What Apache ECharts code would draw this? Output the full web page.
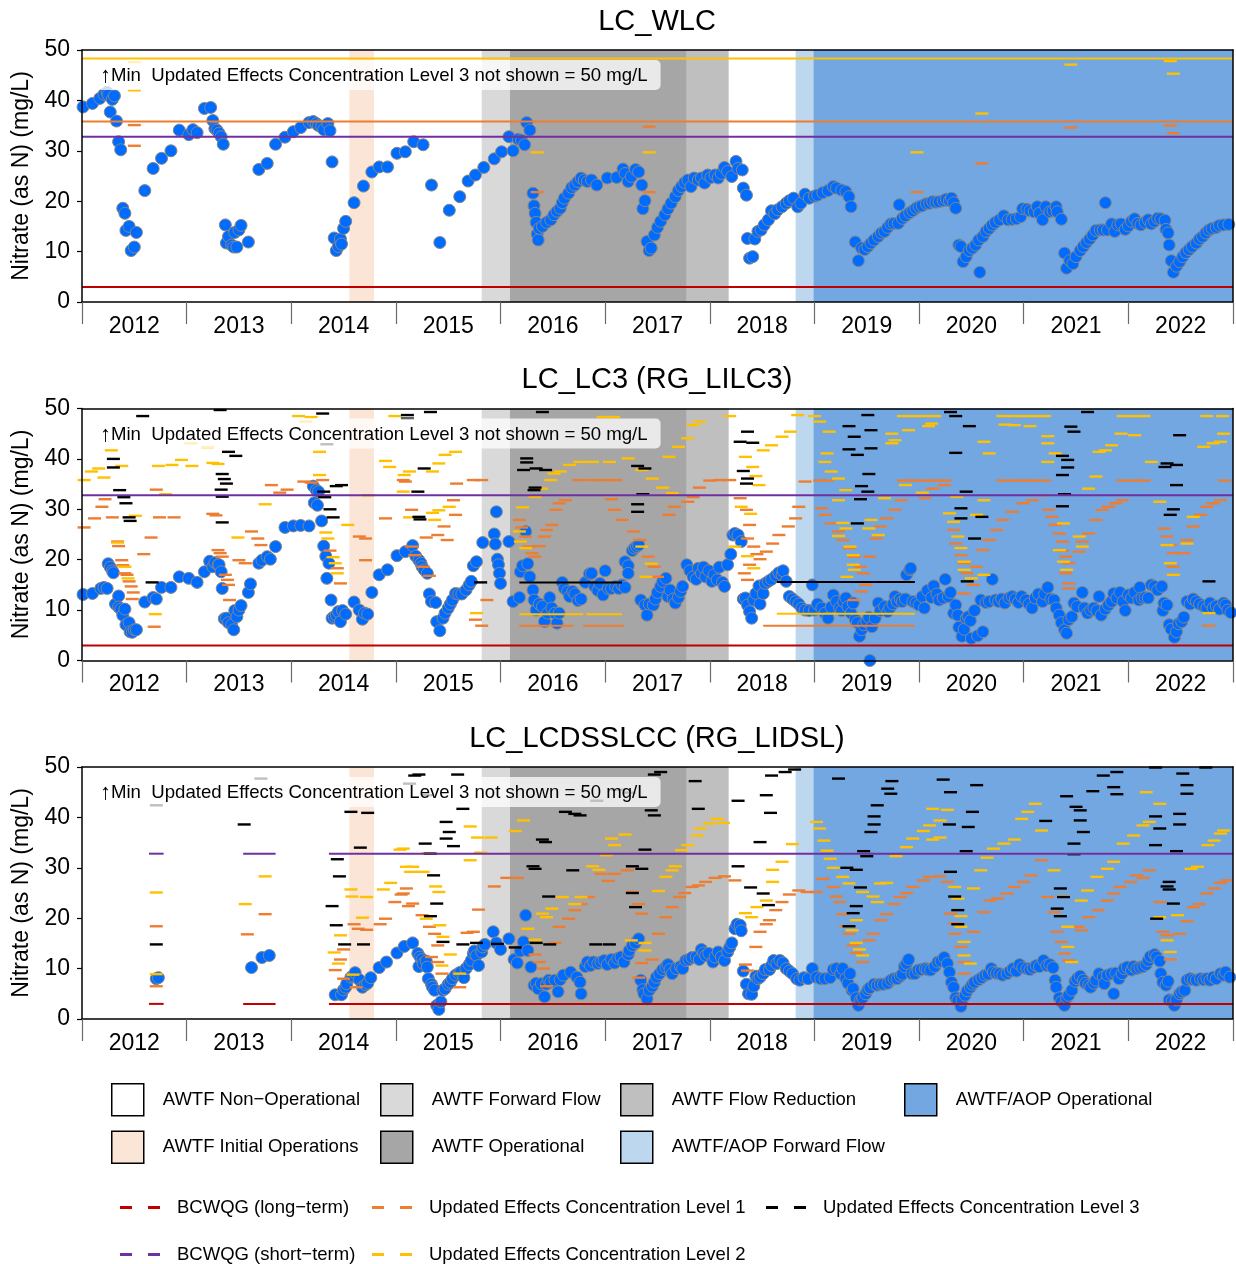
<!DOCTYPE html>
<html>
<head>
<meta charset="utf-8">
<title>Nitrate at Line Creek monitoring stations</title>
<script src="https://cdn.jsdelivr.net/npm/echarts@6/dist/echarts.min.js"></script>
<style>
  html, body { margin: 0; padding: 0; background: #ffffff; }
  #chart { width: 1236px; height: 1264px; }
</style>
</head>
<body>
<div id="chart"></div>
<script>
// ---------------------------------------------------------------------------
// Data (x = decimal year, y = nitrate as N, mg/L)
// ---------------------------------------------------------------------------
const Y_MAX = 50;
const yearFirst = 2012;
const yearLast = 2023;

// Treatment-plant operating phases: [start, end] per period
const phaseNames = ['AWTF Non\u2212Operational', 'AWTF Initial Operations', 'AWTF Forward Flow', 'AWTF Operational',
  'AWTF Flow Reduction', 'AWTF/AOP Forward Flow', 'AWTF/AOP Operational'];
const phasePeriods = [
  [[2012.0, 2014.555], [2014.79, 2015.82], [2018.18, 2018.82]],
  [[2014.555, 2014.79]],
  [[2015.82, 2016.09]],
  [[2016.09, 2017.78]],
  [[2017.78, 2018.18]],
  [[2018.82, 2018.99]],
  [[2018.99, 2023.0]]
];

// ---- LC_WLC ----
const wlcNitrate = [[2012.01,38.7],[2012.10,39.4],[2012.17,40.4],[2012.21,41.2],[2012.24,41.6],[2012.25,41.1],[2012.27,37.7],[2012.29,40.2],[2012.31,40.9],[2012.33,35.9],[2012.35,31.8],[2012.37,30.2],[2012.39,18.6],[2012.41,17.6],[2012.42,14.2],[2012.45,15.0],[2012.47,10.2],[2012.50,10.9],[2012.52,13.8],[2012.60,22.1],[2012.68,26.5],[2012.76,28.5],[2012.85,30.0],[2012.93,34.1],[2013.02,33.2],[2013.06,34.2],[2013.10,33.6],[2013.17,38.4],[2013.23,38.6],[2013.25,36.0],[2013.27,34.4],[2013.29,34.1],[2013.31,33.5],[2013.33,32.8],[2013.35,31.3],[2013.37,15.3],[2013.38,11.7],[2013.40,13.0],[2013.43,11.3],[2013.45,10.9],[2013.46,13.8],[2013.48,10.9],[2013.50,14.3],[2013.52,15.2],[2013.59,11.9],[2013.69,26.3],[2013.77,27.5],[2013.85,31.3],[2013.94,32.7],[2014.02,33.8],[2014.09,34.6],[2014.17,35.6],[2014.21,35.8],[2014.24,35.4],[2014.26,35.0],[2014.29,34.8],[2014.31,34.2],[2014.35,35.4],[2014.37,34.0],[2014.39,27.8],[2014.41,12.7],[2014.43,10.2],[2014.45,11.0],[2014.47,12.5],[2014.48,11.5],[2014.50,14.6],[2014.52,16.0],[2014.60,19.7],[2014.69,23.0],[2014.77,25.8],[2014.84,26.8],[2014.92,26.8],[2015.01,29.5],[2015.09,29.8],[2015.17,31.8],[2015.26,31.2],[2015.34,23.2],[2015.42,11.8],[2015.51,18.2],[2015.61,20.9],[2015.69,24.0],[2015.76,25.2],[2015.84,26.7],[2015.94,28.4],[2016.01,29.8],[2016.08,32.8],[2016.12,30.0],[2016.17,32.3],[2016.20,32.1],[2016.23,31.2],[2016.25,35.6],[2016.28,34.1],[2016.31,21.6],[2016.32,19.1],[2016.33,17.6],[2016.34,15.8],[2016.35,13.5],[2016.36,12.3],[2016.37,14.6],[2016.40,15.0],[2016.44,15.8],[2016.48,16.3],[2016.51,17.3],[2016.54,18.0],[2016.57,18.6],[2016.59,19.7],[2016.61,20.6],[2016.65,21.6],[2016.68,22.7],[2016.71,23.2],[2016.74,23.9],[2016.77,24.6],[2016.80,24.2],[2016.83,23.9],[2016.87,24.2],[2016.92,23.2],[2017.02,24.6],[2017.11,24.7],[2017.17,26.4],[2017.19,25.5],[2017.22,23.9],[2017.25,24.9],[2017.29,26.3],[2017.32,25.8],[2017.35,23.2],[2017.36,18.5],[2017.38,20.1],[2017.40,12.0],[2017.42,10.2],[2017.44,10.7],[2017.47,13.3],[2017.50,14.8],[2017.53,16.0],[2017.57,17.3],[2017.60,18.5],[2017.63,19.6],[2017.67,20.9],[2017.70,22.1],[2017.73,22.9],[2017.76,23.7],[2017.79,24.2],[2017.82,22.9],[2017.85,24.6],[2017.89,24.2],[2017.92,24.6],[2017.95,23.6],[2017.98,25.2],[2018.01,24.7],[2018.05,25.2],[2018.08,24.6],[2018.11,25.5],[2018.14,26.7],[2018.17,25.9],[2018.21,24.9],[2018.25,27.9],[2018.27,26.5],[2018.31,26.2],[2018.32,22.6],[2018.35,21.2],[2018.36,12.6],[2018.38,8.7],[2018.41,9.0],[2018.43,12.5],[2018.46,14.0],[2018.49,14.3],[2018.52,15.3],[2018.56,16.3],[2018.59,18.1],[2018.62,17.5],[2018.65,18.3],[2018.69,18.9],[2018.73,19.6],[2018.76,20.1],[2018.80,20.6],[2018.84,18.9],[2018.87,19.6],[2018.91,21.4],[2018.95,20.6],[2019.00,21.0],[2019.03,21.2],[2019.08,21.7],[2019.13,22.1],[2019.18,22.9],[2019.21,22.6],[2019.26,22.2],[2019.30,21.9],[2019.33,20.9],[2019.35,18.9],[2019.39,11.9],[2019.42,8.2],[2019.45,10.7],[2019.48,10.4],[2019.51,11.0],[2019.54,11.7],[2019.57,12.3],[2019.61,13.0],[2019.64,13.7],[2019.67,14.0],[2019.70,14.8],[2019.73,15.5],[2019.76,15.6],[2019.80,15.6],[2019.81,19.3],[2019.84,16.6],[2019.87,17.1],[2019.91,17.7],[2019.94,18.1],[2019.97,18.6],[2020.00,18.9],[2020.03,19.1],[2020.07,19.5],[2020.10,19.6],[2020.13,19.9],[2020.16,19.8],[2020.19,19.9],[2020.23,20.1],[2020.26,20.4],[2020.29,20.1],[2020.31,20.6],[2020.33,19.7],[2020.35,18.6],[2020.38,11.3],[2020.40,11.0],[2020.42,8.0],[2020.45,9.0],[2020.48,10.2],[2020.51,10.7],[2020.54,11.3],[2020.57,12.3],[2020.58,5.9],[2020.61,13.0],[2020.64,14.0],[2020.67,14.6],[2020.70,15.3],[2020.73,15.8],[2020.77,16.3],[2020.81,17.1],[2020.85,16.3],[2020.89,16.4],[2020.93,16.5],[2020.97,16.9],[2020.99,18.5],[2021.03,18.4],[2021.06,18.1],[2021.10,17.9],[2021.13,18.9],[2021.15,17.6],[2021.18,16.3],[2021.21,18.9],[2021.25,17.9],[2021.28,18.1],[2021.31,18.9],[2021.32,17.9],[2021.36,16.4],[2021.39,9.7],[2021.41,6.7],[2021.44,8.2],[2021.47,7.6],[2021.50,9.0],[2021.54,10.2],[2021.57,11.0],[2021.60,11.8],[2021.63,12.5],[2021.66,13.3],[2021.69,14.2],[2021.73,14.3],[2021.76,14.3],[2021.78,19.7],[2021.80,14.3],[2021.84,15.5],[2021.87,14.0],[2021.90,15.3],[2021.93,15.5],[2021.97,14.4],[2022.00,15.1],[2022.03,16.0],[2022.06,16.5],[2022.09,15.6],[2022.12,15.3],[2022.16,15.8],[2022.19,16.3],[2022.22,15.5],[2022.25,16.0],[2022.28,16.6],[2022.31,16.5],[2022.35,16.2],[2022.36,14.4],[2022.38,13.7],[2022.39,11.3],[2022.41,8.2],[2022.43,5.9],[2022.46,7.1],[2022.49,8.0],[2022.52,9.0],[2022.55,9.8],[2022.58,10.4],[2022.61,11.0],[2022.65,11.7],[2022.68,12.5],[2022.71,13.0],[2022.74,13.7],[2022.77,14.3],[2022.80,14.6],[2022.84,14.8],[2022.87,15.2],[2022.91,15.3],[2022.96,15.4]];
// guideline runs: [start, end, value]
const wlcLongTermRuns = [[2012, 2023, 3.0]];
const wlcShortTermRuns = [[2012, 2023, 32.8]];
const wlcLevel1Runs = [[2012, 2023, 35.8]];
const wlcLevel2Runs = [[2012, 2023, 48.3]];
// single-sample guideline values
const wlcLevel1 = [[2012.50,35.1],[2012.50,31.0],[2016.35,21.8],[2017.42,34.8],[2017.42,21.8],[2019.98,21.8],[2020.60,27.5],[2021.45,34.6],[2022.40,35.0],[2022.43,33.5]];
const wlcLevel2 = [[2012.50,47.6],[2012.50,42.0],[2016.35,29.7],[2017.42,29.7],[2019.98,29.7],[2020.60,37.4],[2021.45,47.1],[2022.40,47.8],[2022.43,45.3]];

// ---- LC_LC3 (RG_LILC3) ----
const lc3Nitrate = [[2012.01,13.1],[2012.10,13.3],[2012.18,14.3],[2012.21,14.5],[2012.24,14.3],[2012.25,19.2],[2012.27,18.5],[2012.29,17.8],[2012.30,17.4],[2012.32,11.2],[2012.35,12.8],[2012.35,10.6],[2012.37,10.2],[2012.39,9.0],[2012.41,10.2],[2012.42,7.1],[2012.45,7.5],[2012.46,5.7],[2012.48,5.6],[2012.50,6.1],[2012.52,6.1],[2012.60,11.6],[2012.68,12.5],[2012.71,12.2],[2012.76,14.5],[2012.85,14.5],[2012.93,16.6],[2013.02,16.3],[2013.10,15.5],[2013.17,17.6],[2013.22,19.7],[2013.25,18.6],[2013.27,19.4],[2013.30,19.0],[2013.31,19.0],[2013.33,17.6],[2013.34,14.3],[2013.36,8.3],[2013.38,8.4],[2013.40,7.5],[2013.43,7.1],[2013.45,6.1],[2013.46,9.9],[2013.48,8.7],[2013.50,10.0],[2013.52,10.9],[2013.59,13.5],[2013.61,15.2],[2013.69,19.3],[2013.72,19.9],[2013.77,20.6],[2013.80,20.1],[2013.85,22.6],[2013.94,26.4],[2014.02,26.7],[2014.09,26.8],[2014.17,26.7],[2014.21,34.6],[2014.22,31.3],[2014.24,33.8],[2014.25,30.8],[2014.26,33.5],[2014.29,27.7],[2014.31,22.7],[2014.33,20.7],[2014.34,16.3],[2014.36,19.3],[2014.38,12.0],[2014.39,8.4],[2014.41,8.7],[2014.43,9.0],[2014.45,9.7],[2014.47,7.7],[2014.49,9.9],[2014.52,9.2],[2014.60,11.6],[2014.65,10.0],[2014.68,8.2],[2014.70,9.4],[2014.73,9.2],[2014.77,13.5],[2014.84,17.0],[2014.92,18.0],[2015.01,20.8],[2015.09,21.6],[2015.16,22.8],[2015.19,20.7],[2015.22,19.9],[2015.24,19.3],[2015.25,18.6],[2015.27,18.0],[2015.30,17.3],[2015.32,13.2],[2015.34,11.7],[2015.38,11.5],[2015.39,7.7],[2015.42,5.9],[2015.45,8.4],[2015.47,9.4],[2015.50,10.4],[2015.52,11.2],[2015.54,12.0],[2015.57,13.3],[2015.60,13.2],[2015.63,13.2],[2015.67,14.0],[2015.70,15.0],[2015.72,15.7],[2015.74,18.8],[2015.77,19.6],[2015.83,23.4],[2015.94,25.1],[2015.95,23.1],[2015.96,29.5],[2015.97,20.1],[2015.98,19.0],[2015.99,17.3],[2016.00,15.3],[2016.08,23.6],[2016.12,11.7],[2016.18,12.5],[2016.19,17.6],[2016.21,18.8],[2016.24,25.6],[2016.26,19.2],[2016.28,16.6],[2016.31,14.0],[2016.32,12.0],[2016.34,10.0],[2016.37,11.2],[2016.40,10.7],[2016.42,7.7],[2016.45,9.4],[2016.47,12.5],[2016.49,10.4],[2016.52,9.4],[2016.54,7.4],[2016.56,9.4],[2016.59,15.5],[2016.61,14.3],[2016.64,13.7],[2016.66,12.7],[2016.69,13.7],[2016.71,13.2],[2016.74,11.9],[2016.77,12.2],[2016.81,15.5],[2016.85,17.2],[2016.87,17.3],[2016.90,14.7],[2016.93,13.9],[2016.95,15.3],[2016.98,13.0],[2017.00,17.8],[2017.03,14.3],[2017.06,14.3],[2017.10,14.7],[2017.13,14.3],[2017.16,15.0],[2017.19,14.5],[2017.19,19.6],[2017.22,18.8],[2017.22,17.3],[2017.26,21.8],[2017.28,22.3],[2017.30,22.6],[2017.32,22.9],[2017.34,12.0],[2017.38,11.0],[2017.40,9.0],[2017.42,11.2],[2017.46,11.0],[2017.48,12.2],[2017.50,13.5],[2017.53,14.7],[2017.55,15.7],[2017.58,16.3],[2017.60,12.7],[2017.62,14.0],[2017.65,12.2],[2017.67,11.4],[2017.70,12.5],[2017.72,13.7],[2017.74,14.7],[2017.78,19.0],[2017.81,17.8],[2017.84,16.6],[2017.87,16.1],[2017.89,18.3],[2017.92,17.3],[2017.94,18.5],[2017.96,16.6],[2017.99,17.8],[2018.02,15.7],[2018.04,17.0],[2018.07,16.0],[2018.09,18.5],[2018.12,15.5],[2018.14,14.7],[2018.17,19.0],[2018.20,21.1],[2018.22,24.9],[2018.24,25.2],[2018.27,24.9],[2018.30,23.6],[2018.32,12.2],[2018.34,12.4],[2018.36,11.0],[2018.38,9.7],[2018.40,8.4],[2018.42,12.0],[2018.44,13.3],[2018.47,14.8],[2018.48,11.2],[2018.51,13.3],[2018.53,15.3],[2018.56,15.7],[2018.59,16.1],[2018.63,16.8],[2018.66,17.4],[2018.69,17.0],[2018.70,17.8],[2018.73,15.7],[2018.76,12.7],[2018.79,12.2],[2018.82,11.7],[2018.85,11.2],[2018.88,10.4],[2018.91,10.0],[2018.95,9.9],[2018.98,15.0],[2019.00,10.0],[2019.03,11.2],[2019.07,10.4],[2019.10,9.4],[2019.13,8.4],[2019.16,10.6],[2019.18,13.0],[2019.21,11.7],[2019.24,10.4],[2019.26,9.9],[2019.28,11.7],[2019.30,12.4],[2019.32,10.7],[2019.35,9.4],[2019.37,11.4],[2019.39,8.1],[2019.41,7.5],[2019.43,4.8],[2019.45,6.1],[2019.47,7.1],[2019.50,7.7],[2019.52,8.6],[2019.53,0.0],[2019.55,6.7],[2019.58,8.4],[2019.61,11.4],[2019.63,9.9],[2019.67,10.7],[2019.70,9.7],[2019.72,10.4],[2019.75,11.2],[2019.77,12.7],[2019.79,11.7],[2019.82,12.2],[2019.84,11.7],[2019.87,12.2],[2019.88,17.0],[2019.91,18.0],[2019.92,18.3],[2019.94,11.7],[2019.97,11.4],[2020.00,11.0],[2020.03,12.7],[2020.05,10.4],[2020.08,13.9],[2020.12,12.5],[2020.14,14.8],[2020.17,13.2],[2020.19,12.0],[2020.23,12.4],[2020.25,16.1],[2020.28,12.7],[2020.30,13.5],[2020.33,9.4],[2020.35,11.0],[2020.37,9.0],[2020.38,6.6],[2020.41,4.8],[2020.43,6.2],[2020.45,8.4],[2020.47,8.7],[2020.49,7.9],[2020.50,4.4],[2020.53,9.9],[2020.56,4.9],[2020.59,12.0],[2020.61,5.7],[2020.64,11.5],[2020.67,11.7],[2020.70,16.1],[2020.73,12.0],[2020.76,11.7],[2020.79,12.2],[2020.82,11.4],[2020.86,12.4],[2020.89,12.7],[2020.92,12.2],[2020.95,11.5],[2020.98,12.7],[2021.02,12.0],[2021.05,11.2],[2021.08,10.4],[2021.11,12.4],[2021.14,13.2],[2021.18,11.7],[2021.20,13.2],[2021.23,14.5],[2021.26,12.2],[2021.29,12.0],[2021.31,10.4],[2021.34,9.0],[2021.36,7.5],[2021.39,6.1],[2021.41,5.4],[2021.43,8.1],[2021.46,8.7],[2021.48,11.4],[2021.51,10.7],[2021.56,13.5],[2021.58,10.4],[2021.61,9.4],[2021.64,10.0],[2021.67,10.4],[2021.70,9.9],[2021.72,12.7],[2021.74,9.0],[2021.78,10.2],[2021.81,11.0],[2021.84,11.7],[2021.86,13.3],[2021.89,12.4],[2021.92,13.5],[2021.95,11.7],[2021.97,9.9],[2022.00,13.0],[2022.03,12.4],[2022.06,13.5],[2022.10,12.0],[2022.11,14.5],[2022.13,12.4],[2022.16,12.5],[2022.19,12.4],[2022.22,15.0],[2022.25,14.7],[2022.28,14.0],[2022.32,14.7],[2022.33,9.9],[2022.34,11.4],[2022.37,11.0],[2022.39,7.1],[2022.41,6.2],[2022.44,4.6],[2022.46,5.7],[2022.48,7.3],[2022.51,7.7],[2022.53,8.6],[2022.56,11.7],[2022.59,11.2],[2022.62,12.2],[2022.65,11.7],[2022.68,11.2],[2022.72,10.8],[2022.75,10.4],[2022.78,11.4],[2022.81,10.4],[2022.84,10.8],[2022.87,10.2],[2022.91,11.4],[2022.93,11.0],[2022.95,10.0],[2022.98,9.5]];
const lc3LongTermRuns = [[2012, 2023, 3.0]];
const lc3ShortTermRuns = [[2012, 2023, 32.8]];
const lc3Level1Runs = [[2016.18,2016.70,6.9],[2016.79,2017.18,6.9],[2018.51,2019.96,6.9]];
const lc3Level2Runs = [[2016.18,2016.79,9.2],[2016.82,2017.16,9.2],[2018.64,2019.96,9.3]];
const lc3Level3Runs = [[2016.18,2017.16,15.5],[2018.64,2019.96,15.6]];
const lc3Level1 = [[2012.02,26.4],[2012.12,28.2],[2012.19,30.5],[2012.22,32.0],[2012.29,28.4],[2012.34,23.6],[2012.35,22.7],[2012.38,19.9],[2012.39,18.9],[2012.41,17.3],[2012.43,17.0],[2012.45,15.7],[2012.47,14.7],[2012.49,13.5],[2012.48,12.2],[2012.59,21.1],[2012.66,24.4],[2012.71,33.9],[2012.74,28.4],[2012.88,28.4],[2012.69,6.7],[2013.25,29.1],[2013.28,28.8],[2013.30,21.9],[2013.32,21.3],[2013.34,20.6],[2013.37,17.0],[2013.39,16.0],[2013.40,15.0],[2013.41,12.0],[2013.50,19.9],[2013.56,19.3],[2013.62,25.6],[2013.68,24.2],[2013.71,22.9],[2013.81,34.8],[2013.89,33.3],[2013.96,33.9],[2014.12,35.5],[2014.19,35.3],[2014.30,35.8],[2014.37,21.8],[2014.44,18.3],[2014.47,15.3],[2014.65,24.6],[2014.71,24.2],[2014.71,19.9],[2014.90,28.2],[2015.07,35.8],[2015.15,29.9],[2015.09,35.5],[2015.15,22.6],[2015.18,20.9],[2015.26,18.6],[2015.32,16.8],[2015.29,24.4],[2015.40,24.9],[2015.46,26.6],[2015.49,23.9],[2015.55,31.8],[2015.57,28.9],[2015.58,35.1],[2015.74,35.8],[2015.82,35.8],[2015.76,8.1],[2015.82,6.9],[2015.87,12.0],[2016.18,27.9],[2016.20,26.4],[2016.24,24.6],[2016.27,22.6],[2016.30,21.3],[2016.33,20.6],[2016.37,22.7],[2016.42,24.6],[2016.44,25.9],[2016.49,26.9],[2016.53,29.9],[2016.56,31.2],[2016.62,31.8],[2016.75,35.8],[2016.88,35.8],[2017.00,35.8],[2017.10,35.8],[2017.06,32.0],[2017.09,29.9],[2017.16,27.9],[2017.27,25.6],[2017.33,23.9],[2017.41,20.6],[2017.47,18.6],[2017.50,16.6],[2017.61,28.9],[2017.66,30.5],[2017.79,31.5],[2017.84,32.4],[2017.90,34.3],[2018.00,35.7],[2018.09,35.8],[2018.19,35.8],[2018.29,32.2],[2018.35,29.9],[2018.38,26.9],[2018.36,24.2],[2018.42,22.6],[2018.45,21.1],[2018.38,19.0],[2018.33,17.3],[2018.36,16.0],[2018.48,20.1],[2018.54,21.6],[2018.60,23.2],[2018.66,24.9],[2018.75,26.6],[2018.82,28.2],[2018.85,30.5],[2018.91,35.5],[2019.05,35.7],[2019.12,35.7],[2019.85,35.7],[2019.95,35.7],[2020.05,35.7],[2020.15,35.7],[2020.25,35.7],[2020.80,35.7],[2020.90,35.7],[2021.00,35.7],[2021.10,35.7],[2021.20,35.7],[2021.95,35.7],[2022.05,35.7],[2022.15,35.7],[2022.92,35.7],[2019.07,30.2],[2019.10,28.9],[2019.16,27.2],[2019.23,25.6],[2019.27,23.9],[2019.33,22.3],[2019.38,20.6],[2019.44,18.6],[2019.47,17.3],[2019.49,15.0],[2019.45,13.7],[2019.38,12.0],[2019.53,20.6],[2019.59,24.2],[2019.63,26.6],[2019.69,28.2],[2019.77,29.9],[2019.83,31.8],[2020.06,32.2],[2020.13,34.1],[2020.24,34.8],[2020.33,25.9],[2020.35,23.2],[2020.40,20.9],[2020.43,19.3],[2020.46,17.3],[2020.43,13.3],[2020.52,15.0],[2020.55,18.6],[2020.61,21.9],[2020.67,23.9],[2020.74,25.9],[2020.80,27.9],[2020.89,29.5],[2020.99,31.2],[2021.08,31.8],[2021.18,32.8],[2021.24,29.9],[2021.27,28.5],[2021.30,26.9],[2021.34,25.2],[2021.37,23.6],[2021.37,21.8],[2021.40,20.6],[2021.43,19.3],[2021.40,17.3],[2021.43,15.3],[2021.43,14.3],[2021.53,21.6],[2021.56,23.6],[2021.62,25.2],[2021.69,27.9],[2021.75,29.9],[2021.81,30.5],[2021.88,31.2],[2021.94,31.8],[2022.34,26.2],[2022.37,24.6],[2022.40,22.9],[2022.43,21.3],[2022.43,18.6],[2022.43,17.0],[2022.53,21.3],[2022.56,23.9],[2022.62,26.6],[2022.69,28.9],[2022.75,30.5],[2022.81,31.2],[2022.88,31.8],[2022.77,6.9]];
const lc3Level2 = [[2012.02,35.8],[2012.09,37.5],[2012.16,38.1],[2012.21,36.3],[2012.28,41.7],[2012.38,38.6],[2012.34,23.4],[2012.41,18.6],[2012.44,16.3],[2012.51,28.7],[2012.70,9.2],[2012.73,38.6],[2012.86,38.8],[2012.80,33.0],[2012.95,39.8],[2013.05,38.6],[2013.04,43.1],[2013.20,42.3],[2013.25,39.2],[2013.30,39.0],[2013.49,24.4],[2013.75,31.0],[2014.07,48.5],[2014.19,48.3],[2014.14,47.4],[2014.27,41.4],[2014.27,36.8],[2014.33,25.4],[2014.35,24.2],[2014.40,20.5],[2014.42,19.3],[2014.44,17.3],[2014.54,26.9],[2014.74,32.8],[2014.94,38.4],[2014.90,39.6],[2014.99,48.5],[2015.07,33.5],[2015.13,37.5],[2015.08,36.8],[2015.35,37.5],[2015.41,39.1],[2015.47,40.8],[2015.57,41.4],[2015.51,30.5],[2015.35,29.3],[2015.41,29.8],[2015.13,28.4],[2015.37,27.9],[2015.77,9.4],[2016.24,22.3],[2016.19,23.6],[2016.18,25.6],[2016.21,30.4],[2016.33,32.5],[2016.39,34.1],[2016.48,35.8],[2016.51,37.1],[2016.57,37.5],[2016.66,38.8],[2016.76,39.4],[2016.88,39.4],[2017.04,39.4],[2016.98,48.3],[2017.08,48.3],[2017.22,40.1],[2017.35,37.8],[2017.45,36.1],[2017.55,34.3],[2017.64,33.2],[2017.61,40.4],[2017.70,42.4],[2017.79,44.1],[2017.84,46.7],[2017.90,47.4],[2018.19,48.5],[2018.51,41.7],[2018.59,42.7],[2018.69,44.4],[2018.77,45.4],[2018.84,48.7],[2018.34,40.4],[2018.41,38.4],[2018.44,36.6],[2018.47,34.8],[2018.30,30.5],[2018.39,29.1],[2018.24,22.6],[2018.36,20.7],[2018.42,18.3],[2017.35,22.6],[2017.44,19.2],[2017.39,16.6],[2019.00,48.5],[2019.85,48.5],[2019.95,48.5],[2020.05,48.5],[2020.15,48.5],[2020.80,48.5],[2020.90,48.5],[2021.00,48.5],[2021.10,48.5],[2021.20,48.5],[2021.95,48.5],[2022.05,48.5],[2022.15,48.5],[2022.75,48.5],[2022.90,48.5],[2019.05,47.4],[2019.14,45.4],[2019.12,41.1],[2019.10,39.4],[2019.16,37.5],[2019.23,36.1],[2019.30,33.8],[2019.23,31.8],[2019.27,27.3],[2019.30,26.2],[2019.23,24.7],[2019.34,22.6],[2019.37,20.9],[2019.37,19.0],[2019.38,18.0],[2019.31,16.6],[2019.52,26.2],[2019.54,27.9],[2019.61,24.9],[2019.67,32.2],[2019.74,45.0],[2019.77,43.7],[2019.74,43.1],[2019.90,45.7],[2020.09,46.5],[2020.12,47.0],[2020.03,33.3],[2019.87,34.8],[2020.36,32.5],[2020.29,29.2],[2020.33,27.5],[2020.37,24.6],[2020.40,22.3],[2020.43,19.6],[2020.43,18.0],[2020.50,16.3],[2020.62,17.0],[2020.55,28.9],[2020.62,31.8],[2020.62,43.4],[2020.67,41.1],[2020.82,46.8],[2020.91,46.7],[2021.06,46.5],[2021.23,44.5],[2021.23,43.1],[2021.30,41.1],[2021.23,39.4],[2021.38,27.2],[2021.34,21.9],[2021.38,19.6],[2021.41,18.0],[2021.53,24.6],[2021.56,22.6],[2021.62,34.1],[2021.69,36.5],[2021.72,41.4],[2021.78,41.7],[2021.84,42.7],[2021.93,45.0],[2022.06,44.7],[2022.22,39.4],[2022.30,31.5],[2022.37,22.9],[2022.40,19.3],[2022.43,17.0],[2022.56,23.2],[2022.62,28.5],[2022.72,42.4],[2022.81,43.1],[2022.88,43.4],[2022.91,45.0],[2022.77,9.4]];
const lc3Level3 = [[2012.58,48.5],[2012.30,40.0],[2012.30,38.3],[2012.36,33.8],[2012.40,32.4],[2012.42,31.2],[2012.45,28.4],[2012.46,27.7],[2012.67,15.5],[2013.32,49.7],[2013.34,37.0],[2013.36,36.0],[2013.38,35.1],[2013.33,33.9],[2013.34,32.5],[2013.40,41.4],[2013.47,40.6],[2013.34,27.4],[2014.30,49.0],[2014.34,42.9],[2014.31,33.5],[2014.32,32.4],[2014.37,30.0],[2014.40,28.4],[2014.43,34.6],[2014.48,34.8],[2015.11,48.7],[2015.11,48.0],[2015.33,49.3],[2015.27,38.1],[2015.21,33.5],[2015.22,28.5],[2015.23,28.0],[2015.81,15.5],[2016.40,49.3],[2016.25,40.1],[2016.25,39.3],[2016.22,37.8],[2016.34,38.1],[2016.43,37.8],[2016.33,34.3],[2016.32,33.8],[2017.31,38.6],[2017.38,38.1],[2017.31,31.0],[2017.31,29.5],[2017.36,33.0],[2018.36,45.4],[2018.29,43.4],[2018.41,43.2],[2018.32,37.6],[2018.36,36.1],[2018.35,35.1],[2019.51,48.7],[2019.33,46.5],[2019.38,44.4],[2019.54,45.7],[2019.33,41.9],[2019.41,40.8],[2019.54,42.1],[2019.52,37.0],[2019.45,34.6],[2019.51,33.5],[2019.44,32.0],[2019.41,27.2],[2020.30,49.3],[2020.35,48.5],[2020.48,46.5],[2020.35,41.2],[2020.45,33.5],[2020.40,30.2],[2020.40,28.2],[2020.60,28.5],[2020.53,24.2],[2020.46,15.7],[2021.45,46.4],[2021.48,45.4],[2021.37,40.6],[2021.42,39.8],[2021.42,38.3],[2021.37,36.8],[2021.39,33.0],[2021.37,30.6],[2021.61,49.3],[2022.49,44.7],[2022.37,39.1],[2022.35,38.4],[2022.46,38.8],[2022.46,34.8],[2022.43,30.0],[2022.40,28.9],[2022.77,15.7]];

// ---- LC_LCDSSLCC (RG_LIDSL) ----
const lcdNitrate = [[2012.71,8.0],[2012.73,8.2],[2013.62,10.2],[2013.72,12.2],[2013.79,12.6],[2014.42,4.8],[2014.48,4.8],[2014.50,5.8],[2014.52,6.3],[2014.53,7.0],[2014.57,8.3],[2014.59,8.5],[2014.61,9.2],[2014.65,7.8],[2014.68,6.3],[2014.71,6.8],[2014.73,7.1],[2014.76,8.2],[2014.84,10.2],[2014.91,11.3],[2015.01,13.1],[2015.08,14.4],[2015.16,15.1],[2015.21,13.0],[2015.22,10.4],[2015.23,12.3],[2015.25,11.8],[2015.26,11.0],[2015.29,11.5],[2015.30,10.3],[2015.31,8.0],[2015.34,6.9],[2015.35,6.3],[2015.37,5.7],[2015.39,2.7],[2015.41,1.9],[2015.43,3.4],[2015.45,5.7],[2015.47,6.0],[2015.50,6.9],[2015.52,7.3],[2015.54,8.0],[2015.57,8.7],[2015.60,9.1],[2015.62,9.3],[2015.65,8.2],[2015.67,10.0],[2015.70,10.8],[2015.72,11.6],[2015.74,13.0],[2015.75,13.5],[2015.77,12.6],[2015.79,10.6],[2015.82,13.3],[2015.83,14.3],[2015.85,14.8],[2015.93,17.3],[2015.96,15.1],[2016.00,13.8],[2016.08,15.9],[2016.13,11.8],[2016.16,11.1],[2016.19,13.5],[2016.22,15.3],[2016.24,20.6],[2016.26,13.6],[2016.29,10.3],[2016.32,6.7],[2016.34,7.1],[2016.36,6.0],[2016.39,7.0],[2016.42,4.4],[2016.44,6.9],[2016.46,7.7],[2016.48,7.3],[2016.52,7.7],[2016.55,5.4],[2016.57,7.8],[2016.60,8.7],[2016.67,9.3],[2016.73,8.3],[2016.76,7.3],[2016.77,5.0],[2016.81,10.4],[2016.83,11.3],[2016.86,10.6],[2016.89,11.3],[2016.93,11.0],[2016.96,11.3],[2016.99,11.6],[2017.02,10.8],[2017.06,11.8],[2017.09,11.1],[2017.12,12.0],[2017.15,12.3],[2017.18,11.3],[2017.22,12.8],[2017.23,13.6],[2017.26,14.6],[2017.29,15.1],[2017.32,15.9],[2017.34,7.7],[2017.36,5.8],[2017.37,5.0],[2017.40,4.0],[2017.42,5.7],[2017.45,6.5],[2017.47,7.3],[2017.49,8.3],[2017.52,9.0],[2017.55,9.8],[2017.58,10.3],[2017.60,10.8],[2017.62,9.8],[2017.64,9.0],[2017.68,10.0],[2017.72,10.4],[2017.74,10.0],[2017.77,11.6],[2017.80,11.8],[2017.83,12.2],[2017.87,12.3],[2017.90,11.8],[2017.92,13.8],[2017.94,13.1],[2017.96,12.6],[2017.99,13.0],[2018.03,11.3],[2018.05,12.3],[2018.08,13.3],[2018.11,12.3],[2018.14,11.6],[2018.17,13.3],[2018.19,14.2],[2018.21,15.1],[2018.24,17.9],[2018.26,18.8],[2018.29,18.6],[2018.30,17.5],[2018.32,9.5],[2018.35,6.9],[2018.37,5.0],[2018.40,4.9],[2018.42,6.5],[2018.44,8.5],[2018.46,8.0],[2018.48,8.3],[2018.51,9.0],[2018.53,9.8],[2018.57,9.8],[2018.59,10.6],[2018.61,11.6],[2018.64,11.0],[2018.67,11.6],[2018.70,11.1],[2018.73,10.0],[2018.76,9.5],[2018.79,9.0],[2018.83,8.0],[2018.86,7.7],[2018.90,8.2],[2018.94,8.0],[2018.98,10.0],[2019.02,8.3],[2019.06,8.0],[2019.10,8.0],[2019.15,8.2],[2019.18,9.8],[2019.21,10.0],[2019.25,9.0],[2019.27,10.0],[2019.30,8.0],[2019.32,7.1],[2019.34,9.0],[2019.36,5.7],[2019.37,6.0],[2019.40,4.2],[2019.42,2.7],[2019.44,3.8],[2019.46,4.2],[2019.49,5.0],[2019.51,5.8],[2019.53,6.2],[2019.57,6.9],[2019.60,6.7],[2019.63,6.9],[2019.66,6.9],[2019.70,7.1],[2019.73,7.7],[2019.76,8.0],[2019.79,8.0],[2019.82,8.5],[2019.84,8.9],[2019.86,10.4],[2019.88,11.0],[2019.90,11.8],[2019.93,9.0],[2019.96,9.0],[2019.99,9.7],[2020.02,9.8],[2020.06,10.0],[2020.08,9.8],[2020.11,9.7],[2020.15,10.4],[2020.18,11.3],[2020.21,11.5],[2020.24,12.2],[2020.27,11.0],[2020.29,9.3],[2020.31,7.3],[2020.33,6.3],[2020.35,4.2],[2020.37,3.7],[2020.40,2.5],[2020.41,3.8],[2020.44,4.7],[2020.46,5.6],[2020.49,6.3],[2020.51,6.9],[2020.53,7.3],[2020.57,7.8],[2020.60,8.2],[2020.63,8.7],[2020.66,8.9],[2020.69,10.0],[2020.71,9.3],[2020.74,9.1],[2020.77,9.0],[2020.80,8.7],[2020.84,9.0],[2020.87,9.5],[2020.90,10.0],[2020.93,9.5],[2020.96,10.8],[2020.99,10.2],[2021.03,10.0],[2021.06,9.8],[2021.09,10.2],[2021.12,10.6],[2021.15,10.4],[2021.19,11.6],[2021.22,10.6],[2021.25,10.8],[2021.28,10.2],[2021.30,7.7],[2021.31,6.3],[2021.34,4.2],[2021.36,3.4],[2021.39,2.7],[2021.41,4.2],[2021.43,4.7],[2021.46,5.7],[2021.49,7.5],[2021.51,8.0],[2021.54,8.5],[2021.57,7.7],[2021.59,7.1],[2021.62,6.7],[2021.64,6.3],[2021.67,7.1],[2021.69,7.7],[2021.72,9.0],[2021.76,8.3],[2021.77,7.0],[2021.80,8.7],[2021.84,9.0],[2021.86,5.0],[2021.88,9.1],[2021.91,8.0],[2021.94,9.0],[2021.96,10.0],[2021.99,10.3],[2022.03,9.7],[2022.05,10.4],[2022.08,10.0],[2022.11,10.2],[2022.14,10.4],[2022.17,10.8],[2022.19,11.6],[2022.21,12.4],[2022.25,12.8],[2022.27,12.3],[2022.30,11.5],[2022.31,9.0],[2022.33,7.3],[2022.36,6.7],[2022.38,7.5],[2022.39,3.8],[2022.42,3.6],[2022.44,2.7],[2022.46,3.8],[2022.49,5.0],[2022.51,5.4],[2022.54,5.7],[2022.56,7.7],[2022.59,8.0],[2022.62,7.8],[2022.65,7.7],[2022.69,8.0],[2022.72,7.8],[2022.75,8.0],[2022.78,7.7],[2022.81,8.3],[2022.84,8.0],[2022.88,9.0],[2022.91,8.7],[2022.93,9.3],[2022.97,8.3]];
const lcdLongTermRuns = [[2012.64,2012.78,3.0],[2013.54,2013.85,3.0],[2014.36,2023,3.0]];
const lcdShortTermRuns = [[2012.64,2012.78,32.8],[2013.54,2013.85,32.8],[2014.36,2023,32.8]];
const lcdLevel1 = [[2012.71,18.4],[2012.71,6.5],[2013.58,16.8],[2013.75,20.8],[2014.42,9.7],[2014.47,11.8],[2014.50,8.0],[2014.50,13.8],[2014.60,18.8],[2014.64,17.9],[2014.72,17.7],[2014.85,18.8],[2014.90,19.9],[2014.99,23.2],[2015.05,24.7],[2015.10,25.9],[2015.12,22.4],[2014.62,6.3],[2015.07,24.9],[2015.16,22.9],[2015.25,20.6],[2015.32,18.3],[2015.37,16.9],[2015.40,14.6],[2015.34,12.3],[2015.40,11.3],[2015.44,9.0],[2015.61,6.3],[2015.68,17.1],[2015.74,17.3],[2015.79,21.7],[2015.94,26.3],[2016.06,28.0],[2016.16,28.0],[2016.33,12.8],[2016.37,11.3],[2016.41,10.0],[2016.44,6.5],[2016.52,15.1],[2016.56,18.3],[2016.65,19.9],[2016.71,21.6],[2016.77,22.8],[2016.84,24.2],[2016.96,28.8],[2017.03,27.4],[2017.09,28.8],[2017.21,29.5],[2017.26,25.2],[2017.32,22.8],[2017.35,20.9],[2017.35,11.1],[2017.32,8.2],[2017.45,11.8],[2017.51,16.9],[2017.58,20.2],[2017.64,22.2],[2017.71,24.2],[2017.76,25.0],[2017.83,26.2],[2017.89,26.5],[2017.96,27.2],[2018.05,28.0],[2018.14,28.3],[2018.24,27.5],[2018.34,10.8],[2018.36,9.6],[2018.44,14.3],[2018.48,17.3],[2018.54,18.8],[2018.57,19.6],[2018.63,21.6],[2018.69,23.2],[2018.76,24.7],[2018.85,25.5],[2018.93,25.2],[2019.02,25.2],[2019.08,27.8],[2019.18,26.2],[2019.21,24.3],[2019.24,23.2],[2019.27,20.8],[2019.30,18.4],[2019.33,16.9],[2019.37,14.6],[2019.40,13.1],[2019.46,11.3],[2019.52,15.6],[2019.56,16.9],[2019.63,19.6],[2019.69,20.8],[2019.76,22.8],[2019.82,24.2],[2019.88,25.0],[2019.94,26.2],[2020.04,27.5],[2020.10,28.2],[2020.20,28.3],[2020.27,27.2],[2020.30,20.9],[2020.34,19.0],[2020.34,16.9],[2020.40,14.3],[2020.43,11.3],[2020.43,9.0],[2020.52,17.3],[2020.62,21.2],[2020.68,23.5],[2020.75,23.9],[2020.84,24.9],[2020.91,26.2],[2021.00,27.2],[2021.07,28.5],[2021.17,31.5],[2021.23,24.2],[2021.29,21.2],[2021.32,17.3],[2021.36,15.3],[2021.39,13.0],[2021.43,11.6],[2021.52,18.3],[2021.55,17.6],[2021.62,20.2],[2021.71,21.6],[2021.80,23.5],[2021.86,24.9],[2021.92,26.2],[2022.02,27.2],[2022.08,28.5],[2022.14,28.0],[2022.20,29.5],[2022.30,23.2],[2022.33,17.3],[2022.37,16.6],[2022.40,11.8],[2022.49,16.9],[2022.56,19.4],[2022.62,22.2],[2022.68,22.8],[2022.75,24.9],[2022.82,25.9],[2022.88,27.0],[2022.94,27.5]];
const lcdLevel2 = [[2012.71,25.1],[2012.71,8.9],[2013.56,22.8],[2013.75,28.3],[2014.41,13.2],[2014.45,11.0],[2014.47,16.6],[2014.57,25.7],[2014.58,24.3],[2014.68,20.1],[2014.59,8.8],[2014.72,24.2],[2014.88,25.7],[2014.95,27.0],[2015.04,33.6],[2015.10,30.2],[2015.14,29.2],[2015.07,33.8],[2015.16,30.2],[2015.26,29.2],[2015.31,32.9],[2015.38,26.3],[2015.41,25.2],[2015.29,19.9],[2015.42,18.6],[2015.45,16.3],[2015.52,12.8],[2015.44,10.6],[2015.61,9.0],[2015.71,38.2],[2015.71,31.5],[2015.78,36.0],[2015.81,33.0],[2015.91,36.0],[2016.14,37.3],[2016.22,39.4],[2016.26,17.9],[2016.33,15.7],[2016.40,20.9],[2016.44,20.2],[2016.49,21.9],[2016.59,24.2],[2016.71,22.8],[2016.77,24.2],[2016.88,30.3],[2016.94,29.6],[2017.01,32.5],[2017.06,35.8],[2017.09,34.5],[2017.19,36.6],[2017.25,15.6],[2017.38,15.1],[2017.38,13.6],[2017.51,25.4],[2017.58,28.2],[2017.64,29.5],[2017.67,30.3],[2017.73,33.5],[2017.79,34.5],[2017.88,36.4],[2017.91,37.8],[2018.00,38.8],[2018.07,39.7],[2018.13,38.9],[2018.34,21.0],[2018.40,20.2],[2018.45,22.2],[2018.54,23.5],[2018.60,27.2],[2018.60,29.6],[2018.69,31.2],[2018.79,34.7],[2019.02,39.1],[2019.05,37.8],[2019.09,35.4],[2019.12,33.4],[2019.15,31.8],[2019.18,30.0],[2019.27,28.2],[2019.33,26.9],[2019.46,25.2],[2019.56,24.3],[2019.60,23.2],[2019.63,26.9],[2019.69,27.0],[2019.36,17.6],[2019.40,15.1],[2019.43,13.8],[2019.46,12.6],[2019.40,19.6],[2019.78,32.3],[2019.88,34.1],[2019.94,35.8],[2020.04,37.3],[2020.10,38.4],[2020.20,39.4],[2020.27,41.5],[2020.13,41.7],[2020.13,35.6],[2020.20,36.0],[2020.34,26.2],[2020.37,23.9],[2020.40,20.4],[2020.40,18.3],[2020.43,15.3],[2020.43,12.6],[2020.49,11.0],[2020.52,25.9],[2020.59,29.5],[2020.65,32.0],[2020.71,33.8],[2020.81,34.8],[2020.91,35.6],[2020.98,39.7],[2021.04,41.1],[2021.11,42.7],[2021.17,37.4],[2021.29,29.5],[2021.38,24.3],[2021.42,18.3],[2021.42,14.3],[2021.46,11.3],[2021.55,23.5],[2021.61,25.5],[2021.70,28.2],[2021.80,29.8],[2021.86,31.2],[2021.95,34.8],[2022.05,36.4],[2022.14,38.4],[2022.20,39.1],[2022.30,42.7],[2022.17,45.0],[2022.30,20.2],[2022.37,15.6],[2022.40,13.3],[2022.47,20.6],[2022.60,29.8],[2022.66,30.2],[2022.76,34.5],[2022.82,35.4],[2022.88,36.8],[2022.91,37.4]];
const lcdLevel3 = [[2012.71,14.8],[2012.71,42.4],[2013.55,38.6],[2013.71,47.7],[2014.39,22.4],[2014.44,31.7],[2014.46,28.3],[2014.43,18.6],[2014.51,14.8],[2014.57,41.1],[2014.66,34.0],[2014.69,14.8],[2014.73,40.9],[2015.18,48.3],[2015.22,48.5],[2015.59,48.5],[2015.13,46.7],[2015.30,44.4],[2015.64,41.7],[2015.48,39.1],[2015.51,37.1],[2015.48,35.8],[2015.55,34.3],[2015.28,34.8],[2015.33,32.8],[2015.36,28.5],[2015.39,22.9],[2015.33,20.4],[2015.45,15.3],[2015.64,14.8],[2015.77,15.1],[2015.97,14.9],[2016.14,14.2],[2016.34,15.1],[2016.47,14.8],[2016.91,14.8],[2017.04,14.8],[2016.31,30.3],[2016.33,29.8],[2016.40,35.6],[2016.43,35.1],[2016.46,24.3],[2016.69,29.5],[2016.62,41.1],[2016.71,40.7],[2016.76,40.4],[2016.92,43.3],[2017.12,45.5],[2017.23,44.9],[2017.47,48.5],[2017.53,49.0],[2017.44,41.4],[2017.47,40.4],[2017.38,33.6],[2017.26,30.3],[2017.35,29.8],[2017.26,25.0],[2017.29,22.2],[2017.86,47.2],[2017.89,41.7],[2018.27,43.3],[2018.59,48.3],[2018.54,44.4],[2018.58,40.9],[2018.72,49.0],[2018.81,49.5],[2018.48,35.1],[2018.27,30.3],[2018.56,22.6],[2018.39,26.1],[2018.51,24.9],[2019.23,47.7],[2019.60,42.4],[2019.70,45.7],[2019.73,44.7],[2019.74,47.2],[2019.57,40.2],[2019.57,38.6],[2019.54,37.1],[2019.47,33.3],[2019.50,32.3],[2019.31,30.0],[2019.40,29.6],[2019.44,26.1],[2019.40,22.4],[2019.37,21.0],[2019.33,18.4],[2020.23,47.5],[2020.30,45.0],[2020.55,46.4],[2020.51,41.1],[2020.47,38.1],[2020.29,38.6],[2020.45,33.3],[2020.30,29.2],[2020.34,24.3],[2020.37,21.6],[2020.37,18.8],[2021.21,39.3],[2021.41,44.2],[2021.50,42.1],[2021.54,41.4],[2021.54,39.4],[2021.57,37.1],[2021.48,34.8],[2021.48,32.7],[2021.35,25.9],[2021.38,24.2],[2021.32,21.9],[2021.35,20.4],[2021.76,48.3],[2021.89,49.0],[2021.86,46.0],[2021.89,44.6],[2021.66,45.2],[2022.26,40.2],[2022.37,26.3],[2022.39,25.7],[2022.43,22.9],[2022.52,48.7],[2022.56,46.4],[2022.56,44.7],[2022.49,40.7],[2022.49,38.6],[2022.30,37.8],[2022.26,34.5],[2022.46,33.3],[2022.74,49.9],[2022.26,49.9],[2022.39,27.2],[2022.27,19.9]];

// ---------------------------------------------------------------------------
// Presentation
// ---------------------------------------------------------------------------
const FONT = "'Liberation Sans', Arial, Helvetica, sans-serif";
const phaseColors = ['#FFFFFF', '#FBE5D6', '#D9D9D9', '#A6A6A6', '#BFBFBF', '#BDD7EE', '#72A7E1'];
const guideKeys = ['l1', 'l2', 'l3', 'st', 'lt'];
const guideNames = {
  lt: 'BCWQG (long\u2212term)',
  st: 'BCWQG (short\u2212term)',
  l1: 'Updated Effects Concentration Level 1',
  l2: 'Updated Effects Concentration Level 2',
  l3: 'Updated Effects Concentration Level 3'
};
const guideColors = { lt: '#C00000', st: '#7030A0', l1: '#ED7D31', l2: '#FFC000', l3: '#000000' };
const pointColor = '#006CFF';

const panels = [
  { title: 'LC_WLC', points: wlcNitrate,
    runs: { lt: wlcLongTermRuns, st: wlcShortTermRuns, l1: wlcLevel1Runs, l2: wlcLevel2Runs },
    dashes: { l1: wlcLevel1, l2: wlcLevel2 } },
  { title: 'LC_LC3 (RG_LILC3)', points: lc3Nitrate,
    runs: { lt: lc3LongTermRuns, st: lc3ShortTermRuns, l1: lc3Level1Runs, l2: lc3Level2Runs, l3: lc3Level3Runs },
    dashes: { l1: lc3Level1, l2: lc3Level2, l3: lc3Level3 } },
  { title: 'LC_LCDSSLCC (RG_LIDSL)', points: lcdNitrate,
    runs: { lt: lcdLongTermRuns, st: lcdShortTermRuns },
    dashes: { l1: lcdLevel1, l2: lcdLevel2, l3: lcdLevel3 } }
];

const gridLeft = 82, gridWidth = 1151, gridHeight = 252;
const gridTops = [50, 408.5, 767];
const yearPx = gridWidth / (yearLast - yearFirst);
const noteText = '{arr|\u2191}Min  Updated Effects Concentration Level 3 not shown = 50 mg/L';

const grids = [], xAxes = [], yAxes = [], titles = [], series = [];
const frameLine = { lineStyle: { color: '#000', width: 1.5 } };

panels.forEach((p, i) => {
  grids.push({ left: gridLeft, top: gridTops[i], width: gridWidth, height: gridHeight,
    containLabel: false, outerBoundsMode: 'none' });

  // bottom axis: year boundaries as ticks, labels centred on each year
  xAxes.push({
    gridIndex: i, type: 'value', position: 'bottom', min: yearFirst, max: yearLast, interval: 1,
    z: 10, axisLine: { show: true, onZero: false, ...frameLine },
    axisTick: { show: true, length: 22, lineStyle: { color: '#6b6b6b', width: 1.2 } },
    splitLine: { show: false },
    axisLabel: {
      margin: 13, color: '#000',
      formatter: v => (v < yearLast ? '{yr|' + v + '}' : ''),
      rich: { yr: { fontSize: 23, fontFamily: FONT, color: '#000', padding: [0, 0, 0, yearPx] } }
    }
  });
  // top frame edge
  xAxes.push({ gridIndex: i, type: 'value', position: 'top', min: yearFirst, max: yearLast, z: 10,
    axisLine: { show: true, onZero: false, ...frameLine }, axisTick: { show: false },
    axisLabel: { show: false }, splitLine: { show: false } });

  yAxes.push({
    gridIndex: i, type: 'value', position: 'left', min: 0, max: Y_MAX, interval: 10, z: 10,
    name: 'Nitrate (as N) (mg/L)', nameLocation: 'middle', nameGap: 47, nameRotate: 90,
    nameTextStyle: { fontSize: 23, color: '#000', fontFamily: FONT },
    axisLine: { show: true, onZero: false, ...frameLine },
    axisTick: { show: true, inside: false, length: 5, lineStyle: { color: '#000', width: 1.2 } },
    axisLabel: { fontSize: 23, color: '#000', margin: 12, fontFamily: FONT },
    splitLine: { show: false }
  });
  // right frame edge
  yAxes.push({ gridIndex: i, type: 'value', position: 'right', min: 0, max: Y_MAX, z: 10,
    axisLine: { show: true, onZero: false, ...frameLine }, axisTick: { show: false },
    axisLabel: { show: false }, splitLine: { show: false } });

  titles.push({ text: p.title, left: 657, top: gridTops[i] - 43, textAlign: 'center', padding: 0,
    textStyle: { fontSize: 29, fontWeight: 'normal', color: '#000', fontFamily: FONT } });
  titles.push({
    text: noteText, left: 97, top: gridTops[i] + 10, padding: [5, 13, 3, 3],
    backgroundColor: 'rgba(255,255,255,0.75)', borderRadius: 5, z: 8,
    textStyle: { fontSize: 18.6, fontWeight: 'normal', color: '#000', fontFamily: FONT, lineHeight: 22,
      rich: { arr: { fontSize: 22, fontWeight: 'bold', color: '#000', lineHeight: 22, fontFamily: FONT } } }
  });

  const ax = 2 * i;
  // operating-phase backgrounds
  phaseNames.forEach((name, k) => {
    series.push({
      type: 'custom', name, xAxisIndex: ax, yAxisIndex: ax, z: 1, silent: true,
      itemStyle: { color: phaseColors[k] },
      data: phasePeriods[k].map(([s, e]) => [s, e, 0]),
      encode: { x: [0, 1], y: 2 },
      renderItem: (params, api) => {
        const a = api.coord([api.value(0), Y_MAX]);
        const b = api.coord([api.value(1), 0]);
        return { type: 'rect', shape: { x: a[0], y: a[1], width: b[0] - a[0], height: b[1] - a[1] },
          style: { fill: phaseColors[k] } };
      }
    });
  });

  // measured nitrate
  series.push({
    type: 'scatter', name: 'Nitrate', xAxisIndex: ax, yAxisIndex: ax, z: 3, silent: true, clip: false,
    symbol: 'circle', symbolSize: 12, data: p.points,
    itemStyle: { color: pointColor, borderColor: '#858585', borderWidth: 1, opacity: 1 }
  });

  // guidelines: per-sample dashes and continuous runs
  guideKeys.forEach(key => {
    const dashes = p.dashes[key] || [];
    const runs = p.runs[key] || [];
    if (dashes.length) {
      series.push({
        type: 'scatter', name: guideNames[key], xAxisIndex: ax, yAxisIndex: ax, z: 4, silent: true, clip: false,
        symbol: 'rect', symbolSize: [13, 2.4], data: dashes, itemStyle: { color: guideColors[key], opacity: 1 }
      });
    }
    if (runs.length) {
      series.push({
        type: 'custom', name: guideNames[key], xAxisIndex: ax, yAxisIndex: ax, z: 5, silent: true,
        itemStyle: { color: guideColors[key] }, data: runs, encode: { x: [0, 1], y: 2 },
        renderItem: (params, api) => {
          const a = api.coord([api.value(0), api.value(2)]);
          const b = api.coord([api.value(1), api.value(2)]);
          return { type: 'line', shape: { x1: a[0], y1: a[1], x2: b[0], y2: b[1] },
            style: { stroke: guideColors[key], lineWidth: 2 } };
        }
      });
    }
  });
});

// ---------------------------------------------------------------------------
// Legends
// ---------------------------------------------------------------------------
const legends = [];
const legendText = { fontSize: 18.5, color: '#000', fontFamily: FONT };
const phaseLegendCols = [[0, 1], [2, 3], [4, 5], [6]];
const phaseLegendLefts = [111, 380, 620, 904];
phaseLegendCols.forEach((col, c) => {
  legends.push({
    orient: 'vertical', left: phaseLegendLefts[c], top: 1083, padding: 0, itemGap: 14,
    itemWidth: 32, itemHeight: 32, selectedMode: false,
    textStyle: { ...legendText, padding: [0, 0, 0, 14] },
    data: col.map(k => ({ name: phaseNames[k], icon: 'rect',
      itemStyle: { color: phaseColors[k], borderColor: '#000', borderWidth: 1.5 } }))
  });
});
const dashIcon = 'path://M0,0H12V3H0Z M28,0H40V3H28Z';
const guideLegendCols = [['lt', 'st'], ['l1', 'l2'], ['l3']];
const guideLegendLefts = [120, 372, 766];
guideLegendCols.forEach((col, c) => {
  legends.push({
    orient: 'vertical', left: guideLegendLefts[c], top: 1198, padding: 0, itemGap: 28,
    itemWidth: 40, itemHeight: 3, selectedMode: false,
    textStyle: { ...legendText, padding: [0, 0, 0, 12] },
    data: col.map(k => ({ name: guideNames[k], icon: dashIcon,
      itemStyle: { color: guideColors[k], borderWidth: 0 } }))
  });
});

const chart = echarts.init(document.getElementById('chart'), null, { renderer: 'canvas' });
chart.setOption({
  backgroundColor: '#ffffff',
  animation: false,
  textStyle: { fontFamily: FONT },
  title: titles,
  grid: grids,
  xAxis: xAxes,
  yAxis: yAxes,
  legend: legends,
  series: series
});
</script>
</body>
</html>
